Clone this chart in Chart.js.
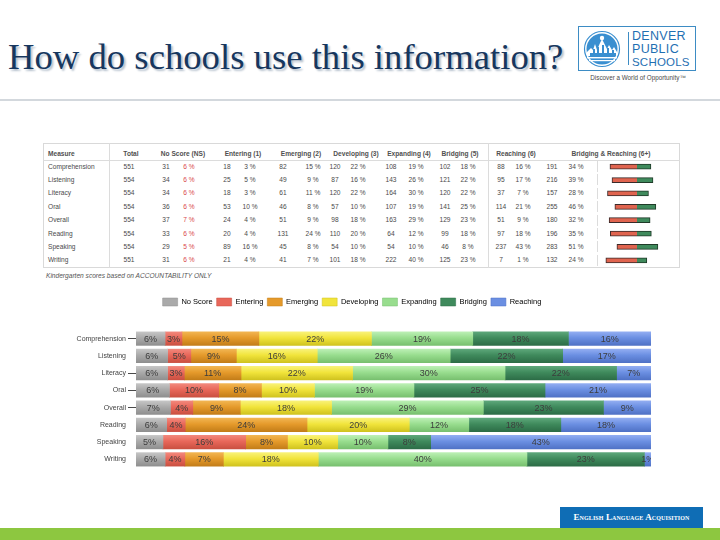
<!DOCTYPE html>
<html><head><meta charset="utf-8">
<script src="https://cdn.jsdelivr.net/npm/chart.js@4/dist/chart.umd.min.js"></script>
<style>
html,body{margin:0;padding:0;width:720px;height:540px;overflow:hidden;background:#fff;font-family:"Liberation Sans",Arial,sans-serif;}
.abs{position:absolute;}
#title{left:8px;top:37px;font-family:"Liberation Serif","Times New Roman",serif;font-size:36.7px;line-height:40px;color:#17375e;text-shadow:2px 2px 2px #b7c2ce;white-space:nowrap;}
#logo{left:578px;top:26px;width:118px;height:45px;border:1px solid #3d8cc4;box-sizing:border-box;}
#logoDiv{left:628px;top:32px;width:1px;height:33px;background:#3d8cc4;}
.lt{position:absolute;left:632px;font-size:12.5px;line-height:13px;color:#1f6fb2;font-family:"Liberation Sans",Arial,sans-serif;letter-spacing:0.3px;}
#tag{left:577px;top:74px;width:122px;font-size:6.3px;color:#4a4a4a;text-align:center;white-space:nowrap;}
#rule{left:0;top:99px;width:720px;height:2px;background:#d3d8dd;}
#tbl{left:43px;top:143px;width:637px;height:125px;border:1px solid #d9d9d9;box-sizing:border-box;}
.c{position:absolute;font-size:6.6px;line-height:10px;height:10px;color:#4a4a4a;white-space:nowrap;}
.h{font-weight:bold;font-size:6.6px;color:#505050;}
.red{color:#d9474a;}
.vl{position:absolute;width:1px;background:#dcdcdc;}
#foot{left:46px;top:272px;font-size:6.6px;font-style:italic;color:#555;white-space:nowrap;}
#ela{left:560px;top:507px;width:143px;height:21px;background:#0f6db5;color:#fff;font-family:"Liberation Serif",serif;font-weight:bold;font-size:9px;line-height:21px;text-align:center;font-variant:small-caps;letter-spacing:0.1px;white-space:nowrap;}
#green{left:0;top:528px;width:720px;height:12px;background:#8dc740;}
</style></head>
<body>
<div id="title" class="abs">How do schools use this information?</div>
<div id="logo" class="abs"></div>
<svg class="abs" style="left:583px;top:30px" width="38" height="38" viewBox="0 0 38 38">
<circle cx="19" cy="19" r="17.5" fill="#ffffff" stroke="#3a8fd0" stroke-width="1.2"/>
<circle cx="19" cy="19" r="15.5" fill="#3a8fd0"/>
<path d="M4 22 L8 18 L10 20 L12 14 L14 20 L17 13 L19 9 L21 13 L24 19 L26 15 L29 20 L31 17 L34 22 L34 26 L4 26 Z" fill="#ffffff"/>
<path d="M7 23 h3 v-4 h2 v4 h2 v-6 h2 v6 h3 v-8 h2 v8 h3 v-5 h2 v5 h3 v-3 h2 v3 h2 v3 H7 Z" fill="#3a8fd0"/>
<rect x="4" y="27" width="30" height="1.4" fill="#ffffff"/>
<rect x="6" y="30" width="26" height="1.2" fill="#ffffff"/>
<circle cx="19" cy="8" r="2.2" fill="#ffffff"/>
</svg>
<div id="logoDiv" class="abs"></div>
<div class="lt" style="top:30px">DENVER</div>
<div class="lt" style="top:43px">PUBLIC</div>
<div class="lt" style="top:56px;font-size:11.5px;letter-spacing:0.2px">SCHOOLS</div>
<div id="tag" class="abs">Discover a World of Opportunity™</div>
<div id="rule" class="abs"></div>

<div id="tbl" class="abs"></div>
<div id="cells"></div>
<div id="foot" class="abs">Kindergarten scores based on ACCOUNTABILITY ONLY</div>
<canvas id="spark" class="abs" style="left:596px;top:160px" width="82" height="107"></canvas>

<canvas id="main" class="abs" style="left:0;top:285px" width="720" height="190"></canvas>

<div id="ela" class="abs">English Language Acquisition</div>
<div id="green" class="abs"></div>

<script>
// ---------------- DATA ----------------
const categories = ['Comprehension','Listening','Literacy','Oral','Overall','Reading','Speaking','Writing'];
const levels = ['No Score','Entering','Emerging','Developing','Expanding','Bridging','Reaching'];
const tableHeaders = ['Measure','Total','No Score (NS)','Entering (1)','Emerging (2)','Developing (3)','Expanding (4)','Bridging (5)','Reaching (6)','Bridging & Reaching (6+)'];
const totals      = [551,554,554,554,554,554,554,551];
const noScoreN    = [31,34,34,36,37,33,29,31];
const noScorePct  = [6,6,6,6,7,6,5,6];
const enteringN   = [18,25,18,53,24,20,89,21];
const enteringPct = [3,5,3,10,4,4,16,4];
const emergingN   = [82,49,61,46,51,131,45,41];
const emergingPct = [15,9,11,8,9,24,8,7];
const developingN   = [120,87,120,57,98,110,54,101];
const developingPct = [22,16,22,10,18,20,10,18];
const expandingN   = [108,143,164,107,163,64,54,222];
const expandingPct = [19,26,30,19,29,12,10,40];
const bridgingN   = [102,121,120,141,129,99,46,125];
const bridgingPct = [18,22,22,25,23,18,8,23];
const reachingN   = [88,95,37,114,51,97,237,7];
const reachingPct = [16,17,7,21,9,18,43,1];
const bridgReachN   = [191,216,157,255,180,196,283,132];
const bridgReachPct = [34,39,28,46,32,35,51,24];
const belowBridgingPct = [66,61,72,54,68,65,49,76];

// ---------------- STYLE ----------------
const levelCounts = [noScoreN,enteringN,emergingN,developingN,expandingN,bridgingN,reachingN];
const levelPcts = [noScorePct,enteringPct,emergingPct,developingPct,expandingPct,bridgingPct,reachingPct];
const shades = [
  ['#c6c6c6','#aaaaaa','#8e8e8e'],
  ['#f2897d','#e8675a','#c94f40'],
  ['#f2b653','#e59a2b','#c27c18'],
  ['#f9f27a','#f1e43b','#cfc21e'],
  ['#bdf0b6','#98dd8e','#77bf6e'],
  ['#5ea87b','#3f8a5c','#2c6c46'],
  ['#93aef2','#6b8fe2','#4f71c5']
];

// ---------------- TABLE (HTML text) ----------------
const cells = document.getElementById('cells');
function put(text, x, cy, align, cls){
  const d = document.createElement('div');
  d.className = 'c ' + (cls||'');
  d.textContent = text;
  d.style.top = (cy - 5) + 'px';
  if(align === 'left'){ d.style.left = x + 'px'; }
  else { d.style.left = (x - 50) + 'px'; d.style.width = '100px'; d.style.textAlign = 'center'; }
  cells.appendChild(d);
}
const headX = [48,131,183,243,301,356,409,460,516,611];
tableHeaders.forEach((h,i)=>put(h, headX[i], 154, i===0?'left':'center', 'h'));
const nX = [166,227,283,335,391,445,501];
const pX = [189,250,313,358,416,468,523];
categories.forEach((cat,r)=>{
  const cy = 166.5 + r*13.4;
  put(cat, 48, cy, 'left');
  put(String(totals[r]), 129, cy, 'center');
  levelCounts.forEach((arr,k)=>{
    put(String(arr[r]), nX[k], cy, 'center');
    put(levelPcts[k][r] + ' %', pX[k], cy, 'center', k===0?'red':'');
  });
  put(String(bridgReachN[r]), 552, cy, 'center');
  put(bridgReachPct[r] + ' %', 576, cy, 'center');
});
// table lines
function vline(x, y, h){ const d=document.createElement('div'); d.className='vl'; d.style.left=x+'px'; d.style.top=y+'px'; d.style.height=h+'px'; cells.appendChild(d); }
function hline(x, y, w){ const d=document.createElement('div'); d.className='vl'; d.style.left=x+'px'; d.style.top=y+'px'; d.style.width=w+'px'; d.style.height='1px'; cells.appendChild(d); }
hline(43, 160, 637);
vline(109, 143, 125);
vline(488, 143, 125);
categories.forEach((c,r)=>{ const cy=166.5+r*13.4; vline(597, cy-5.5, 11); });

// ---------------- SPARKLINE (Chart.js) ----------------
new Chart(document.getElementById('spark'), {
  type:'bar',
  data:{
    labels: categories,
    datasets:[
      {label:'Below Bridging', data: belowBridgingPct.map(v=>-v), backgroundColor:'#e0644f', borderColor:'#3a2a2a', borderWidth:1, barThickness:5},
      {label:'Bridging & Reaching', data: bridgReachPct, backgroundColor:'#3f8a5c', borderColor:'#1f3a28', borderWidth:1, barThickness:5}
    ]
  },
  options:{
    indexAxis:'y', responsive:false, animation:false, devicePixelRatio:1,
    layout:{padding:0},
    plugins:{legend:{display:false}, tooltip:{enabled:false}},
    scales:{
      x:{stacked:true, min:-100, max:100, display:false},
      y:{stacked:true, display:false}
    }
  }
});

// ---------------- MAIN CHART ----------------
function barFill(k){
  return function(ctx){
    const chart = ctx.chart;
    const base = shades[k][1];
    if(ctx.type !== 'data' || !chart.chartArea || !chart.scales.y) return base;
    const cy = chart.scales.y.getPixelForValue(ctx.dataIndex);
    const g = chart.ctx.createLinearGradient(0, cy-7, 0, cy+7);
    g.addColorStop(0, shades[k][0]);
    g.addColorStop(0.45, shades[k][1]);
    g.addColorStop(1, shades[k][2]);
    return g;
  };
}
const rowSums = categories.map((c,r)=>levelCounts.reduce((s,arr)=>s+arr[r],0));
const datasets = levels.map((lv,k)=>({
  label: lv,
  data: levelCounts[k].map((v,r)=> v / rowSums[r] * 100),
  backgroundColor: barFill(k),
  borderWidth: 0,
  barThickness: 13.5
}));

const segLabels = {
  id:'segLabels',
  afterDatasetsDraw(chart){
    const c = chart.ctx, a = chart.chartArea;
    c.save();
    c.beginPath(); c.rect(a.left, a.top, a.right-a.left, a.bottom-a.top); c.clip();
    c.font = '9px "Liberation Sans", Arial, sans-serif';
    c.fillStyle = '#3c3c3c';
    c.textAlign = 'center'; c.textBaseline = 'middle';
    chart.data.datasets.forEach((ds,k)=>{
      chart.getDatasetMeta(k).data.forEach((el,r)=>{
        c.fillText(levelPcts[k][r] + '%', (el.x + el.base)/2, el.y + 0.5);
      });
    });
    c.restore();
  }
};
const legendGap = {
  id:'legendGap',
  beforeInit(chart){
    const orig = chart.legend.fit;
    chart.legend.fit = function(){ orig.bind(chart.legend)(); this.height += 14; };
  }
};

new Chart(document.getElementById('main'), {
  type:'bar',
  data:{ labels: categories, datasets },
  plugins:[segLabels, legendGap],
  options:{
    indexAxis:'y', responsive:false, animation:false, devicePixelRatio:1,
    layout:{padding:{left:53, right:69, top:9, bottom:7}},
    plugins:{
      tooltip:{enabled:false},
      legend:{
        position:'top',
        labels:{
          boxWidth:15, boxHeight:8, padding:4, color:'#444',
          font:{size:7.5, family:'"Liberation Sans", Arial, sans-serif'},
          generateLabels(chart){
            return levels.map((lv,k)=>({text:lv, fillStyle:shades[k][1], strokeStyle:shades[k][2], lineWidth:0.5, datasetIndex:k, hidden:false}));
          }
        }
      }
    },
    scales:{
      x:{stacked:true, min:0, max:100, display:false},
      y:{
        stacked:true,
        afterFit(scale){ scale.width = 83; },
        border:{display:false},
        grid:{offset:false, drawOnChartArea:false, drawTicks:true, tickLength:8, lineWidth:1,
              tickColor:(ctx)=>[0,2,3,4].includes(ctx.index)?'#4a4a4a':'rgba(0,0,0,0)'},
        ticks:{color:'#444', padding:2, font:{size:7, family:'"Liberation Sans", Arial, sans-serif'}}
      }
    }
  }
});
</script>
</body></html>
